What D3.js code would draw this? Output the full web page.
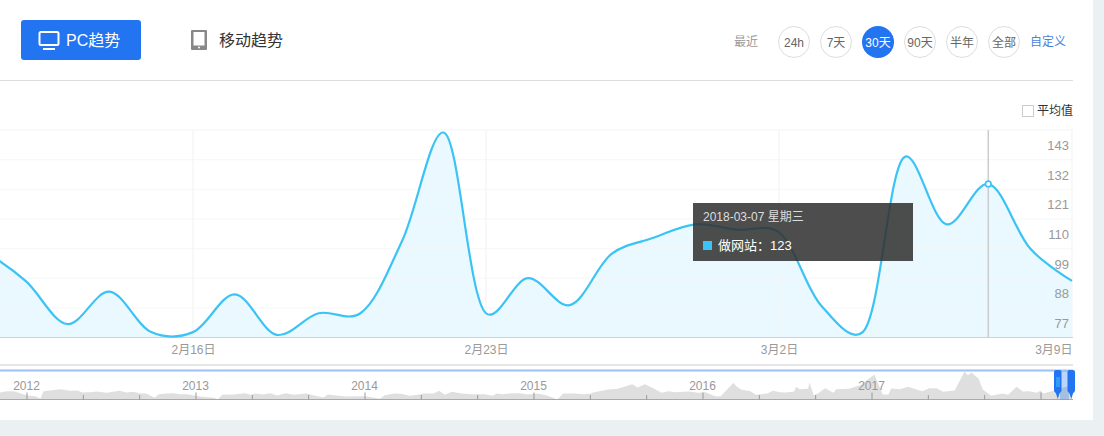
<!DOCTYPE html>
<html><head><meta charset="utf-8">
<script src="https://cdn.jsdelivr.net/npm/d3@7/dist/d3.min.js"></script>
<style>
html,body{margin:0;padding:0;background:#ebf0f3;overflow:hidden}
svg{display:block}
text{font-family:"Liberation Sans","Noto Sans CJK SC",sans-serif}
</style></head><body>
<svg id="c" width="1104" height="436"></svg>
<script>
const trendDays = ["2018-02-09","2018-02-10","2018-02-11","2018-02-12","2018-02-13","2018-02-14","2018-02-15","2018-02-16","2018-02-17","2018-02-18","2018-02-19","2018-02-20","2018-02-21","2018-02-22","2018-02-23","2018-02-24","2018-02-25","2018-02-26","2018-02-27","2018-02-28","2018-03-01","2018-03-02","2018-03-03","2018-03-04","2018-03-05","2018-03-06","2018-03-07","2018-03-08","2018-03-09"];
const trendValues = [112,105,98,87,71,83,68,68,82,67,75,75,102,142,75,88,78,97,103,108,106,105,78,68,133,108,123,99,87];
const yTickValues = [143,132,121,110,99,88,77];
const xTickDays = ["2018-02-16","2018-02-23","2018-03-02","2018-03-09"];
const overviewMonths = [-1.9,-1.4,-0.9,-0.4,0.1,0.6,1.0,1.2,1.7,2.4,3.1,3.6,4.0,4.5,5.0,5.7,6.6,7.1,7.6,8.1,8.5,9.1,9.4,10,10.4,10.9,11.4,12.3,13.3,13.6,13.9,14.7,15.5,15.9,16.3,16.8,17.3,17.8,18.4,19,19.9,20.5,21.1,21.4,22,22.7,23.9,24.3,25.1,25.4,26.1,26.6,27.2,27.8,28.2,28.9,29.3,29.7,30.2,30.9,31.6,32.5,33.1,33.4,33.8,34.2,35,35.6,36.3,37,37.7,38.1,38.9,39.6,40,40.3,41.3,42,43,43.4,43.9,44.4,45.1,45.6,46,47,47.7,48.2,48.9,49.3,50.2,50.4,50.75,51.4,51.8,52.6,53,53.5,53.9,54.5,54.65,54.9,55.5,55.6,55.9,56.2,56.7,57.3,57.5,58.4,59.2,60.2,60.8,61.2,61.4,62,62.6,63.2,63.6,64.1,64.6,65.1,65.9,66.6,66.85,67.1,67.6,67.9,68.5,69.3,69.7,70.3,70.75,71.2,71.7,72,72.2,72.9,74.2];
const overviewValues = [7,8.3,8.3,6,4,3.3,1,8.3,9,10.3,8.7,9,7,7.3,8,6.7,8.7,7,7.7,6,6,1.7,5.3,6,6.3,5.3,5.3,3,1.7,.3,4.7,5,6.3,4.7,6,5,6.3,4,6.3,4.7,6,3.7,2,5,4,3,3.3,2.7,.7,4,6,5.7,3.7,4.7,6,6,8.7,4.7,7.7,6,5.3,5.3,3.7,6,5.3,6,6.3,5,6,3.7,0,6,6,5.3,5.7,7.3,10,10.7,15.3,12,15.3,12,6.7,8.3,7.3,8,6.7,7.3,3.3,3.3,16.7,13.3,10,8.3,4.7,6,8.7,7.3,7,8,12.7,10.3,10.7,17,4.3,6,11.3,6.7,10.3,10.7,14.3,25,5,5,11,10.3,12.7,10,8.3,11.3,11.3,7.7,9,27.7,24.3,27,21,10,3.7,6,4.7,12.7,8,8.3,6.7,8.7,6,8.7,14.3];
const overviewYears = [2012,2013,2014,2015,2016,2017];
const rangeLabels = ["24h","7天","30天","90天","半年","全部"];
const selectedRange = "30天";
const hoverDay = "2018-03-07", hoverLabel = "2018-03-07 星期三", seriesName = "做网站";

const blue="#2274f0", cyan="#3cc3f5";
const svg=d3.select("#c");
const parse=d3.timeParse("%Y-%m-%d");
svg.append("defs").append("clipPath").attr("id","plot").append("rect").attr("x",0).attr("y",125).attr("width",1073).attr("height",214);
svg.append("rect").attr("width",1093).attr("height",420).attr("fill","#fff");

// header
svg.append("rect").attr("x",21).attr("y",20).attr("width",120).attr("height",40).attr("rx",3).attr("fill",blue);
const mon=svg.append("g").attr("fill","none").attr("stroke","#fff");
mon.append("rect").attr("x",39.5).attr("y",32).attr("width",19).attr("height",13).attr("rx",1.5).attr("stroke-width",2);
mon.append("line").attr("x1",43).attr("x2",55).attr("y1",49).attr("y2",49).attr("stroke-width",2);
svg.append("text").attr("x",66).attr("y",45.5).attr("font-size",16).attr("fill","#fff").text("PC趋势");
svg.append("rect").attr("x",191).attr("y",30).attr("width",16).attr("height",20).attr("rx",1).attr("fill","#888");
svg.append("rect").attr("x",193.5).attr("y",32).attr("width",11).attr("height",13.5).attr("fill","#fff");
svg.append("circle").attr("cx",199).attr("cy",47.5).attr("r",1).attr("fill","#fff");
svg.append("text").attr("x",219).attr("y",45.5).attr("font-size",16).attr("fill","#333").text("移动趋势");
svg.append("line").attr("x1",0).attr("x2",1073).attr("y1",80.5).attr("y2",80.5).attr("stroke","#ddd");
svg.append("text").attr("x",734).attr("y",46).attr("font-size",12).attr("fill","#999").text("最近");
const btn=svg.selectAll("g.b").data(rangeLabels).join("g").attr("class","b").attr("transform",(d,i)=>`translate(${794+i*42},42)`);
btn.append("circle").attr("r",d=>d===selectedRange?16:15.5).attr("fill",d=>d===selectedRange?blue:"#fff").attr("stroke",d=>d===selectedRange?"none":"#ddd");
btn.append("text").attr("text-anchor","middle").attr("y",4.5).attr("font-size",12).attr("fill",d=>d===selectedRange?"#fff":"#666").text(d=>d);
svg.append("text").attr("x",1030).attr("y",46).attr("font-size",12).attr("fill","#4a7fdc").text("自定义");
svg.append("rect").attr("x",1022.5).attr("y",105.5).attr("width",11).attr("height",11).attr("fill","#fff").attr("stroke","#ccc");
svg.append("text").attr("x",1037).attr("y",115).attr("font-size",12).attr("fill","#333").text("平均值");

// main chart
const x=d3.scaleTime().domain([parse("2018-02-16"),parse("2018-03-09")]).range([193,1072]);
const y=d3.scaleLinear().domain([66,143]).range([337.5,130]);
const gridV=d3.range(66,144,11);
const data=trendDays.map((d,i)=>({date:parse(d),v:trendValues[i]}));
const curve=d3.curveCatmullRom.alpha(0.3);
svg.append("path").datum(data).attr("clip-path","url(#plot)").attr("fill","#38c6fc").attr("fill-opacity",.105)
  .attr("d",d3.area().x(d=>x(d.date)).y0(y(66)).y1(d=>y(d.v)).curve(curve));
const grid=svg.append("g").attr("stroke","#f4f5f6");
grid.selectAll("line.h").data(gridV.filter(v=>v>66)).join("line").attr("class","h").attr("stroke-opacity",.75)
  .attr("x1",0).attr("x2",1073).attr("y1",d=>y(d)).attr("y2",d=>y(d)).attr("stroke-width",d=>d===143?1.5:1.2);
grid.selectAll("line.v").data(xTickDays).join("line").attr("class","v")
  .attr("x1",d=>x(parse(d))).attr("x2",d=>x(parse(d))).attr("y1",130).attr("y2",337.5).attr("stroke-width",1.3);
svg.append("line").attr("x1",0).attr("x2",1073).attr("y1",337.5).attr("y2",337.5).attr("stroke","#c8d6dc");

const yAxis=svg.append("g").attr("transform","translate(1069,15.5)")
  .call(d3.axisLeft(y).tickValues(yTickValues).tickSize(0).tickPadding(0));
yAxis.select(".domain").remove();
yAxis.selectAll("text").attr("font-size",13).attr("fill","#999").style("font-family",'"Liberation Sans",sans-serif');
const xAxis=svg.append("g").attr("transform","translate(0,339.5)")
  .call(d3.axisBottom(x).tickValues(xTickDays.map(parse)).tickSize(0).tickPadding(6)
    .tickFormat(d=>`${d.getMonth()+1}月${d.getDate()}日`));
xAxis.select(".domain").remove();
xAxis.selectAll("text").attr("font-size",12).attr("fill","#999")
  .attr("text-anchor",(d,i)=>i===xTickDays.length-1?"end":"middle");

// hover crosshair, then the line above the grid
const hd=data.find(d=>+d.date===+parse(hoverDay));
svg.append("line").attr("x1",x(hd.date)).attr("x2",x(hd.date)).attr("y1",130).attr("y2",337.5).attr("stroke","#ccc").attr("stroke-width",1.5);
svg.append("path").datum(data).attr("clip-path","url(#plot)").attr("fill","none").attr("stroke",cyan).attr("stroke-width",2.2)
  .attr("d",d3.line().x(d=>x(d.date)).y(d=>y(d.v)).curve(curve));
svg.append("circle").attr("cx",x(hd.date)).attr("cy",y(hd.v)).attr("r",2.8).attr("fill","#fff").attr("stroke",cyan).attr("stroke-width",1.6);
svg.append("rect").attr("x",693).attr("y",203).attr("width",220).attr("height",58).attr("fill","#333").attr("fill-opacity",.87);
svg.append("text").attr("x",703).attr("y",221).attr("font-size",12).attr("fill","#ddd").text(hoverLabel);
svg.append("rect").attr("x",703).attr("y",241).attr("width",9).attr("height",9).attr("fill",cyan);
svg.append("text").attr("x",718).attr("y",250).attr("font-size",13).attr("fill","#fff").text(`${seriesName}：${hd.v}`);

// overview
const m=d3.scaleLinear().domain([0,60]).range([26.5,871.5]);
const oy=d3.scaleLinear().domain([0,30]).range([399.5,369.5]);
svg.append("rect").attr("x",0).attr("y",364).attr("width",1073).attr("height",2).attr("fill","#e6e6e6");
svg.append("rect").attr("x",0).attr("y",369.5).attr("width",1073).attr("height",2).attr("fill","#9fc0f5");
svg.append("path").datum(overviewMonths.map((d,i)=>[d,overviewValues[i]])).attr("fill","#dfdfdf")
  .attr("d",d3.area().x(d=>m(d[0])).y0(oy(0)).y1(d=>oy(d[1])));
const minor=d3.range(-1,75).map(i=>i*4).filter(v=>v>=0&&v<=72);
const axO=svg.append("g").attr("transform","translate(0,399.5)")
  .call(d3.axisTop(m).tickValues(minor).tickSize(4.5).tickFormat(""));
axO.select(".domain").attr("d","M0,0H1073").attr("stroke","#aaa");
axO.selectAll("line").attr("stroke","#999").attr("y2",d=>d%12===0?-7:-4.5);
svg.selectAll("text.yr").data(overviewYears).join("text").attr("class","yr")
  .attr("x",d=>m((d-2012)*12)).attr("y",390).attr("text-anchor","middle").attr("font-size",12).attr("fill","#999").text(d=>d);

// range window
svg.append("rect").attr("x",1060).attr("y",371).attr("width",9).attr("height",28.5).attr("fill","#2274f0").attr("fill-opacity",.3);
const handle=s=>{const g=svg.append("g").attr("transform",`translate(${s},0)`);
  g.append("path").attr("d","M0,372Q0,370 2,370H5.5Q7.5,370 7.5,372V391L5.5,393.5L3.75,399L2,393.5L0,391Z").attr("fill",blue);return g;};
handle(1054).append("g").attr("fill",cyan).selectAll("rect").data([2.5,4.5]).join("rect").attr("x",d=>d).attr("y",377).attr("width",1).attr("height",10);
handle(1067.5);
</script>
</body></html>
